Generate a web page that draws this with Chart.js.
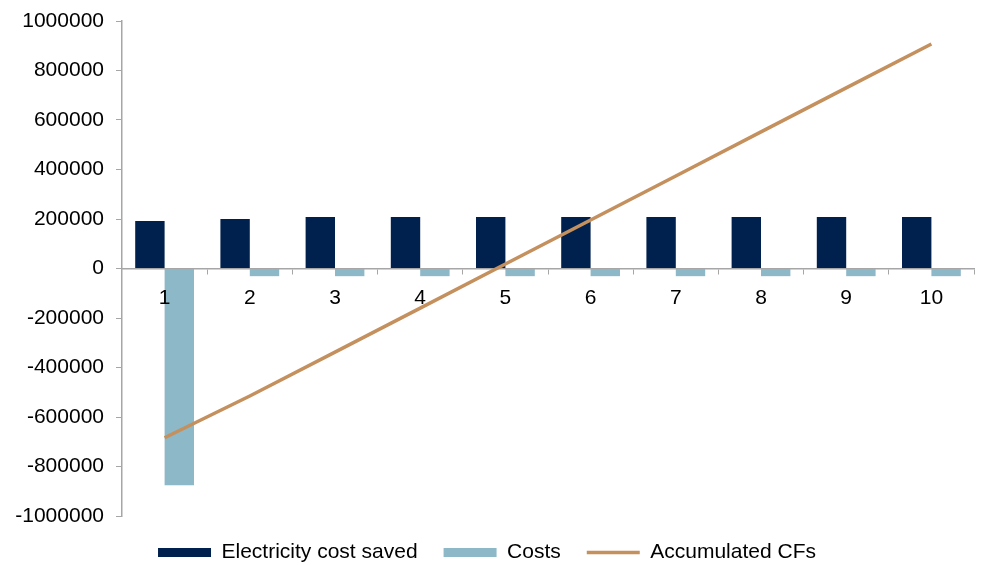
<!DOCTYPE html>
<html>
<head>
<meta charset="utf-8">
<title>Cash flows</title>
<script src="https://cdn.jsdelivr.net/npm/chart.js@4/dist/chart.umd.min.js"></script>
<style>
  html, body { margin: 0; padding: 0; background: #fff; }
  #wrap { width: 981px; height: 565px; }
</style>
</head>
<body>
<div id="wrap"><canvas id="cf-chart" width="981" height="565"></canvas></div>
<script>
const years = ["1", "2", "3", "4", "5", "6", "7", "8", "9", "10"];
const electricitySaved = [192000, 200000, 208000, 208000, 208000, 208000, 208000, 208000, 208000, 208000];
const costs = [-876000, -31000, -31000, -31000, -31000, -31000, -31000, -31000, -31000, -31000];
const accumulatedCFs = [-684000, -515000, -338000, -160000, 18000, 196000, 374000, 552000, 730000, 907000];
const yTicks = { min: -1000000, max: 1000000, step: 200000 };

document.addEventListener("DOMContentLoaded", () => {
  const ctx = document.getElementById("cf-chart");
  const axisGrey = "#a6a6a6";

  Chart.defaults.font.family = "'Liberation Sans', Arial, sans-serif";
  Chart.defaults.font.size = 21;
  Chart.defaults.color = "#000";

  new Chart(ctx, {
    type: "bar",
    data: {
      labels: years,
      datasets: [
        {
          label: "Electricity cost saved",
          data: electricitySaved,
          backgroundColor: "#00204e",
          borderWidth: 0,
          pointStyle: "rect",
          order: 1
        },
        {
          label: "Costs",
          data: costs,
          backgroundColor: "#8db8c7",
          borderWidth: 0,
          pointStyle: "rect",
          order: 1
        },
        {
          type: "line",
          label: "Accumulated CFs",
          data: accumulatedCFs,
          borderColor: "#c4905e",
          backgroundColor: "#c4905e",
          borderWidth: 3.5,
          pointRadius: 0,
          pointStyle: "line",
          tension: 0,
          order: 0
        }
      ]
    },
    options: {
      responsive: false,
      animation: false,
      // legend box overhangs the bottom edge so its row sits close under the plot
      layout: { padding: { top: 21, right: 7, bottom: -8, left: 0 } },
      datasets: {
        bar: { categoryPercentage: 0.69, barPercentage: 1 }
      },
      plugins: {
        tooltip: { enabled: false },
        legend: {
          position: "bottom",
          labels: {
            usePointStyle: true,
            pointStyleWidth: 53,
            boxHeight: 9,
            padding: 26,
            sort: (a, b) => a.datasetIndex - b.datasetIndex
          }
        }
      },
      scales: {
        x: {
          position: { y: 0 },
          offset: true,
          grid: {
            offset: true,
            drawOnChartArea: false,
            drawTicks: true,
            tickLength: 5,
            tickColor: axisGrey
          },
          border: { color: axisGrey, width: 1.5 },
          // category numbers sit on top of the bars
          ticks: { padding: 12, maxRotation: 0, z: 1 }
        },
        y: {
          min: yTicks.min,
          max: yTicks.max,
          afterFit: (scale) => {
            scale.width = 122;
            scale.paddingTop = 0;
          },
          grid: {
            drawOnChartArea: false,
            drawTicks: true,
            tickLength: 6,
            tickColor: axisGrey
          },
          border: { color: axisGrey, width: 1.5 },
          ticks: {
            stepSize: yTicks.step,
            padding: 12,
            callback: (value) => String(value)
          }
        }
      }
    }
  });
});
</script>
</body>
</html>
